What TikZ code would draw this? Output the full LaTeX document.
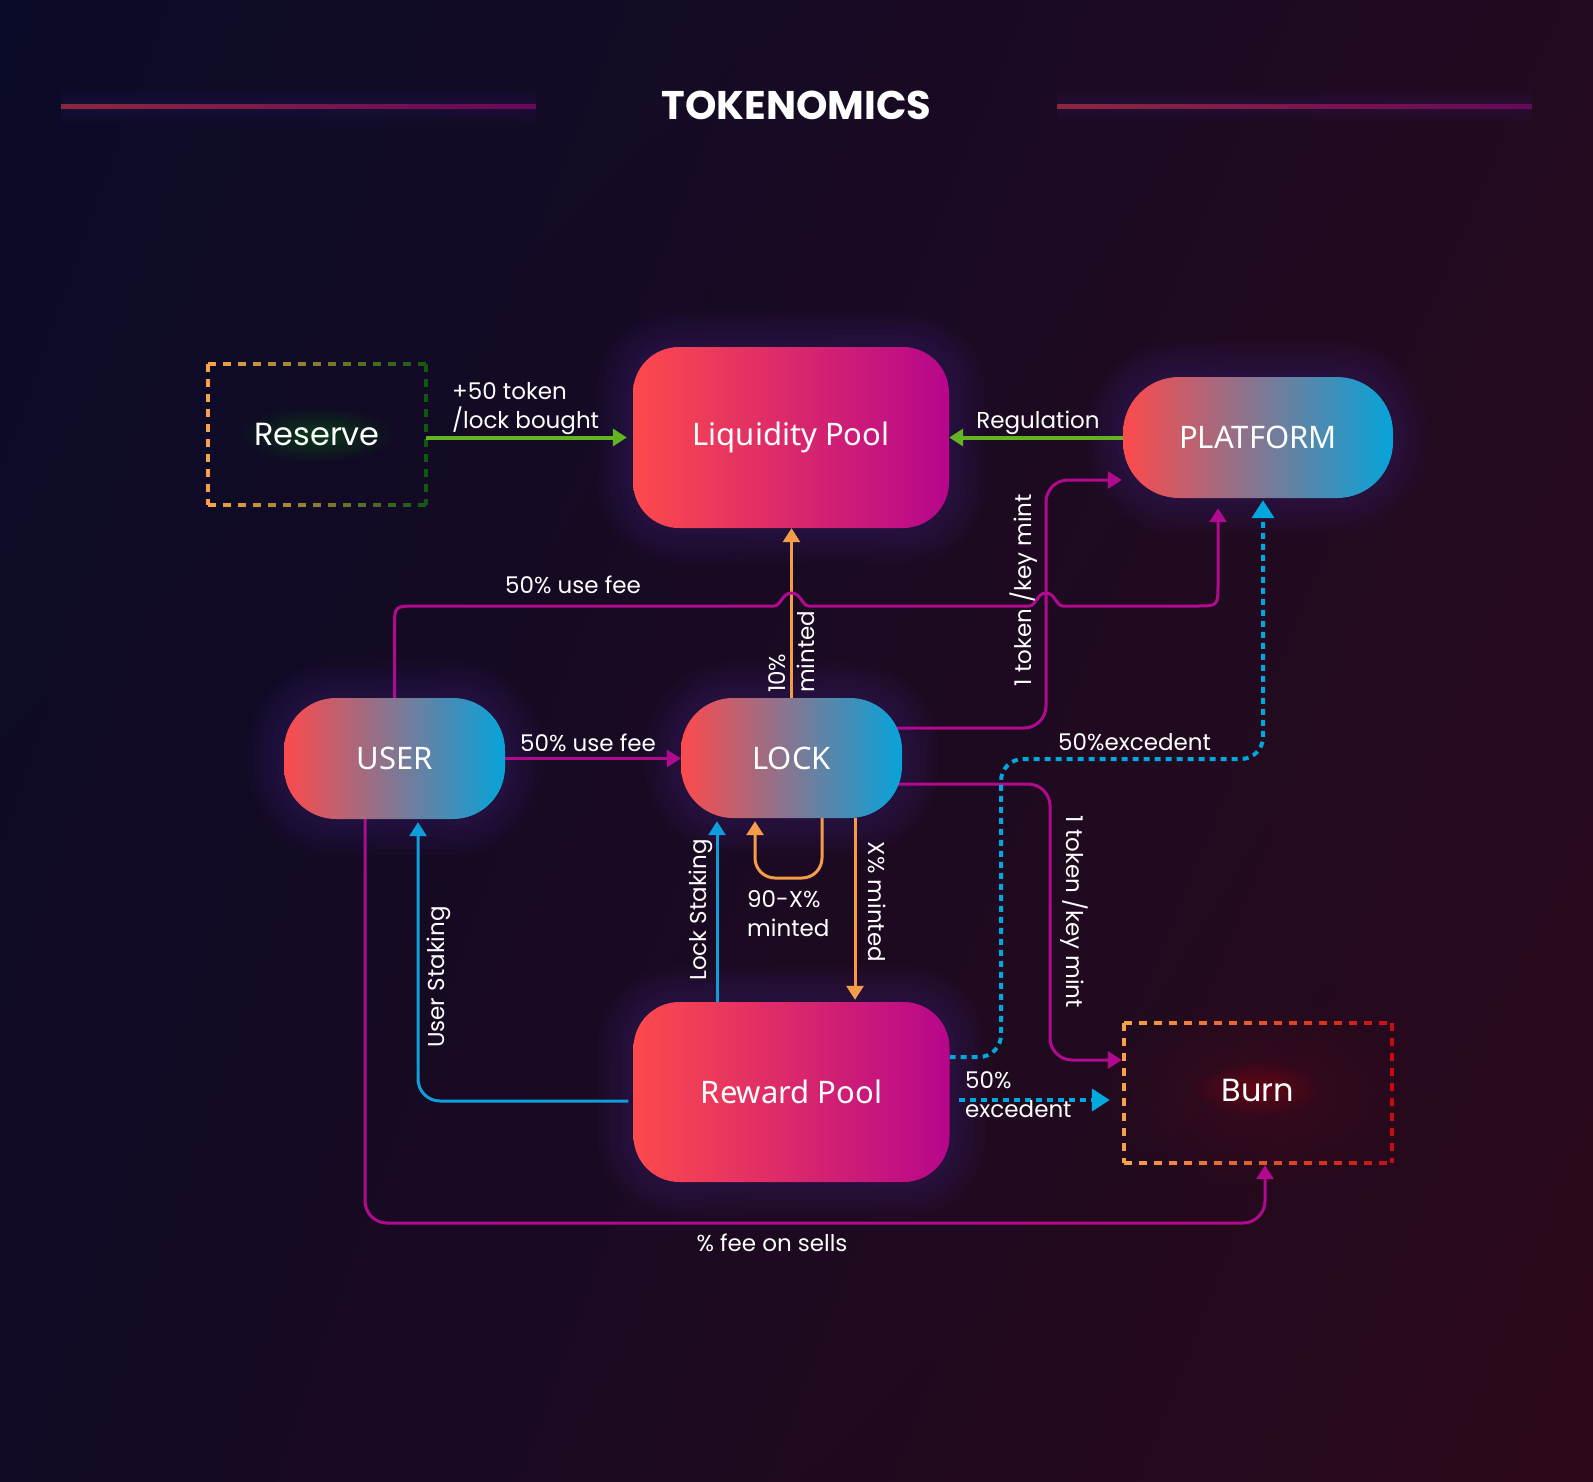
\documentclass[tikz,border=0pt]{standalone}
\usepackage{fontspec}
\setmainfont{Poppins}
\newfontfamily\nodefont{Noto Sans}
\usetikzlibrary{arrows.meta,fadings,shadings}

\tikzfading[name=softglow, inner color=transparent!0, outer color=transparent!100]

\definecolor{bgTL}{RGB}{10,11,40}
\definecolor{bgTR}{RGB}{34,10,32}
\definecolor{bgBL}{RGB}{18,10,36}
\definecolor{bgBR}{RGB}{44,9,26}
\definecolor{cRed}{RGB}{253,74,76}
\definecolor{cMag}{RGB}{183,6,140}
\definecolor{cCyan}{RGB}{6,164,218}
\definecolor{lMag}{RGB}{178,10,142}
\definecolor{lBlue}{RGB}{14,158,220}
\definecolor{lDot}{RGB}{0,168,222}
\definecolor{lOrange}{RGB}{245,156,72}
\definecolor{lGreen}{RGB}{98,180,32}
\definecolor{glowc}{RGB}{80,40,160}
\definecolor{dOrange}{RGB}{246,162,72}
\definecolor{dGreen}{RGB}{14,88,18}
\definecolor{dRed}{RGB}{200,10,20}
\definecolor{tlA}{RGB}{140,40,60}
\definecolor{tlB}{RGB}{105,8,90}

\pgfdeclarelayer{bglayer}
\pgfdeclarelayer{glowlayer}
\pgfdeclarelayer{linelayer}
\pgfsetlayers{bglayer,glowlayer,linelayer,main}

\newcommand{\gradientdashbox}[6]{%
  \pgfmathsetmacro\gdsx{#1+15}
  \foreach \xx in {#1,\gdsx,...,#3} {
    \pgfmathsetmacro\gdpp{(\xx-#1)/(#3-#1)*100}
    \pgfmathsetmacro\gdxe{min(\xx+8,#3)}
    \draw[line width=4pt, color=#6!\gdpp!#5] (\xx,#2) -- (\gdxe,#2);
    \draw[line width=4pt, color=#6!\gdpp!#5] (\xx,#4) -- (\gdxe,#4);
  }
  \draw[#5, line width=4pt, dash pattern=on 8pt off 7pt] (#1,#2) -- (#1,#4);
  \draw[#6, line width=4pt, dash pattern=on 8pt off 7pt] (#3,#2) -- (#3,#4);
}

\tikzset{
  every node/.style={text=white, inner sep=0pt},
  lbl/.style={font=\fontsize{23}{27}\selectfont},
  gradbox/.style={rounded corners=52pt, left color=cRed, right color=cCyan,
    font=\nodefont\fontsize{31}{36}\selectfont},
  poolbox/.style={rounded corners=46pt, left color=cRed, right color=cMag,
    minimum width=316pt, minimum height=181pt,
    font=\nodefont\fontsize{31}{36}\selectfont},
  plainbox/.style={minimum width=218pt, minimum height=141pt,
    font=\fontsize{32}{36}\selectfont},
  arr/.style={-{Triangle[length=14pt,width=17pt]}},
  mline/.style={draw=lMag, line width=3pt, arr, rounded corners=22pt},
  bline/.style={draw=lBlue, line width=3pt, arr, rounded corners=22pt},
  oline/.style={draw=lOrange, line width=3pt, arr, rounded corners=20pt},
  gline/.style={draw=lGreen, line width=4pt, arr},
  dline/.style={draw=lDot, line width=4pt, dash pattern=on 6pt off 5pt,
    -{Triangle[length=18pt,width=22pt]}, rounded corners=22pt},
}

\begin{document}
\begin{tikzpicture}[x=1pt,y=-1pt]
\useasboundingbox (0,0) rectangle (1593,1482);

% ---------- nodes ----------
\node[poolbox] (liq) at (791,437.5) {Liquidity Pool};
\node[gradbox, minimum width=270pt, minimum height=121pt, rounded corners=56pt] (plat) at (1258,437.5) {PLATFORM};
\node[gradbox, minimum width=221pt, minimum height=121pt] (user) at (394.5,758.5) {USER};
\node[gradbox, minimum width=221pt, minimum height=120pt] (lock) at (791.5,758) {LOCK};
\node[poolbox, minimum height=180pt] (reward) at (791.5,1092) {Reward Pool};
\node[plainbox] (reserve) at (317,434.5) {Reserve};
\node[plainbox, minimum width=268pt, minimum height=140pt] (burn) at (1258,1093) {\raisebox{6pt}{Burn}};

\node[font=\bfseries\fontsize{40}{42}\selectfont, anchor=base] (title) at (796.5,120) {TOKENOMICS};

% ---------- background ----------
\begin{pgfonlayer}{bglayer}
\shade[upper left=bgTL, upper right=bgTR, lower left=bgBL, lower right=bgBR]
  (0,0) rectangle (1593,1482);
\foreach \w in {10,20,30} {
  \draw[glowc, opacity=0.05, line width=\w pt] (61,106.5) -- (536,106.5);
  \draw[glowc, opacity=0.05, line width=\w pt] (1057,106.5) -- (1532,106.5);
}
\shade[left color=tlA, right color=tlB] (61,104.5) rectangle (536,108.5);
\shade[left color=tlA, right color=tlB] (1057,104.5) rectangle (1532,108.5);
\end{pgfonlayer}

% ---------- glows ----------
\begin{pgfonlayer}{glowlayer}
\foreach \n/\r in {liq/46,plat/56,user/52,lock/52,reward/46} {
  \foreach \w in {12,24,36,48,60,72} {
    \draw[glowc, opacity=0.045, line width=\w pt, rounded corners=\r pt]
      (\n.north west) rectangle (\n.south east);
  }
}
\fill[dRed, opacity=0.12, path fading=softglow] (burn.center) ellipse (160pt and 100pt);
\fill[red!80!black, opacity=0.3, path fading=softglow] ([yshift=5pt]burn.center) ellipse (65pt and 28pt);
\fill[green!55!black, opacity=0.35, path fading=softglow] (reserve.center) ellipse (80pt and 28pt);
\gradientdashbox{208}{364}{426}{505}{dOrange}{dGreen}
\gradientdashbox{1124}{1023}{1392}{1163}{dOrange}{dRed}
\end{pgfonlayer}

% ---------- connectors ----------
\begin{pgfonlayer}{linelayer}
% Reserve -> Liquidity Pool
\draw[gline] (reserve.east |- liq.west) -- ([xshift=-6pt]liq.west);
% Platform -> Liquidity Pool
\draw[gline] (plat.west) -- (plat.west -| liq.east);
% Lock -> Liquidity Pool
\draw[oline] (lock.north) -- (lock.north |- liq.south);
% User -> Platform (50% use fee), with hops
\draw[mline, sharp corners] (user.north) -- (394.5,628)
  .. controls (394.5,606) .. (416.5,606)
  -- (774,606)
  .. controls (781,606) and (782,593) .. (791.5,593)
  .. controls (801,593) and (802,606) .. (809,606)
  -- (1029,606)
  .. controls (1036,606) and (1037,593) .. (1046,593)
  .. controls (1055,593) and (1056,606) .. (1063,606)
  -- (1196,606)
  .. controls (1218,606) .. (1218,584)
  -- ([xshift=-40pt,yshift=-10pt]plat.south);
% User -> Lock
\draw[mline] (user.east) -- (user.east -| lock.west);
% Lock -> Platform
\draw[mline] ([xshift=-10pt,yshift=30pt]lock.east) -- (1046,728) |- ([xshift=-1pt,yshift=-42.5pt]plat.west);
% Lock -> Burn
\draw[mline] ([xshift=-8pt,yshift=-26pt]lock.east) -- (1050,784) |- ([xshift=-2pt,yshift=33pt]burn.west);
% Lock loop
\draw[oline] ([xshift=30.5pt]lock.south) -- (822,878) -| ([xshift=-36.5pt,yshift=-3pt]lock.south);
% Lock -> Reward Pool
\draw[oline] ([xshift=63.5pt]lock.south) -- ([xshift=63.5pt,yshift=2pt]reward.north);
% Reward Pool -> Lock (Lock Staking)
\draw[bline] ([xshift=-74.5pt]reward.north) -- ([xshift=-74.5pt,yshift=-3pt]lock.south);
% Reward Pool -> User (User Staking)
\draw[bline] ([xshift=-5pt,yshift=-9pt]reward.west) -| ([xshift=23.5pt,yshift=-3pt]user.south);
% User -> Burn (% fee on sells)
\draw[mline] ([xshift=-29.5pt]user.south) -- (365,1223) -| ([xshift=7pt,yshift=-2pt]burn.south);
% Reward Pool -> Platform (50% excedent)
\draw[dline] ([yshift=35pt]reward.east) -| (1001,759) -| ([xshift=5pt,yshift=-2pt]plat.south);
% Reward Pool -> Burn (50% excedent)
\draw[dline] ([xshift=9pt,yshift=-8pt]reward.east) -- ([xshift=-14pt,yshift=-7pt]burn.west);
\end{pgfonlayer}

% ---------- labels ----------
\node[lbl, anchor=base west] (l1a) at (452,399) {+50 token};
\node[lbl, anchor=base west] (l1b) at (452,428) {/lock bought};
\node[lbl, anchor=base] (l2) at (1038,428) {Regulation};
\node[lbl, anchor=base west, rotate=90] (l3a) at (785,693) {10\%};
\node[lbl, anchor=base west, rotate=90] (l3b) at (814,693) {minted};
\node[lbl, anchor=base west] (l4) at (505,593) {50\% use fee};
\node[lbl, anchor=base west] (l5) at (520,751) {50\% use fee};
\node[lbl, anchor=base, rotate=90] (l6) at (1031,590) {1 token /key mint};
\node[lbl, anchor=base, rotate=-90] (l7) at (1066,912) {1 token /key mint};
\node[lbl, anchor=base west] (l8a) at (747,907) {90-X\%};
\node[lbl, anchor=base west] (l8b) at (747,936) {minted};
\node[lbl, anchor=base, rotate=-90] (l9) at (868,902) {X\% minted};
\node[lbl, anchor=base, rotate=90] (l10) at (706,910) {Lock Staking};
\node[lbl, anchor=base, rotate=90] (l11) at (444,977) {User Staking};
\node[lbl, anchor=base] (l12) at (772,1251) {\% fee on sells};
\node[lbl, anchor=base west] (l13) at (1058,750) {50\%excedent};
\node[lbl, anchor=base west] (l14a) at (965,1088) {50\%};
\node[lbl, anchor=base west] (l14b) at (965,1117) {excedent};
\end{tikzpicture}
\end{document}
